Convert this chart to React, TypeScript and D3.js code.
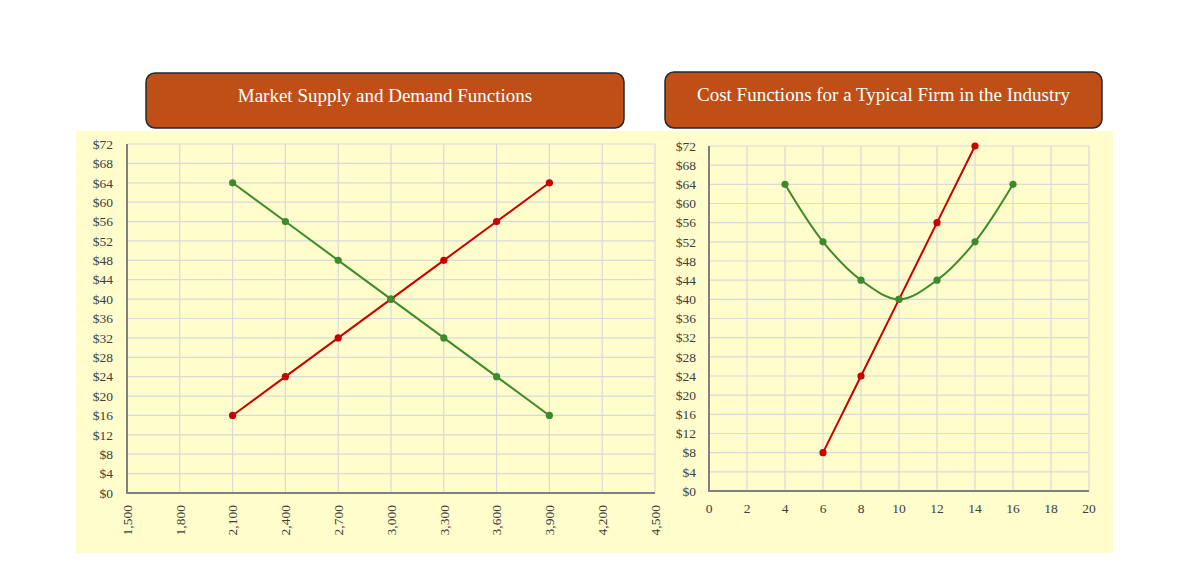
import React from "react";
import * as d3 from "d3";

const marketQty = [2100, 2400, 2700, 3000, 3300, 3600, 3900];
const demandPrice = [64, 56, 48, 40, 32, 24, 16];
const supplyPrice = [16, 24, 32, 40, 48, 56, 64];
const marketXTicks = [1500, 1800, 2100, 2400, 2700, 3000, 3300, 3600, 3900, 4200, 4500];

const atcQty = [4, 6, 8, 10, 12, 14, 16];
const atcCost = [64, 52, 44, 40, 44, 52, 64];
const mcQty = [6, 8, 10, 12, 14];
const mcCost = [8, 24, 40, 56, 72];
const firmXTicks = [0, 2, 4, 6, 8, 10, 12, 14, 16, 18, 20];

const priceTicks = d3.range(0, 73, 4);

const GREEN = "#3d8b2a";
const RED = "#c80000";
const GRID = "#d9d9d9";
const AXIS = "#808080";
const TEXT = "#404040";
const FONT = "'Liberation Serif', 'Times New Roman', serif";

type Pt = [number, number];

function Panel(props: {
  x0: number; x1: number; y0: number; y1: number;
  xDomain: [number, number]; xTicks: number[]; rotated: boolean;
  series: { pts: Pt[]; color: string; smooth: boolean }[];
  yLabelX: number;
}) {
  const { x0, x1, y0, y1, xDomain, xTicks, rotated, series, yLabelX } = props;
  const x = d3.scaleLinear().domain(xDomain).range([x0, x1]);
  const y = d3.scaleLinear().domain([0, 72]).range([y0, y1]);
  const fmt = d3.format(",");
  return (
    <g>
      {priceTicks.map((t) => (
        <line key={"h" + t} x1={x0} x2={x1} y1={y(t)} y2={y(t)} stroke={GRID} strokeWidth={1.2} />
      ))}
      {xTicks.map((t) => (
        <line key={"v" + t} x1={x(t)} x2={x(t)} y1={y(0)} y2={y(72)} stroke={GRID} strokeWidth={1.2} />
      ))}
      <line x1={x0} x2={x0} y1={y(0) + 1} y2={y(72)} stroke={AXIS} strokeWidth={2} />
      <line x1={x0 - 1} x2={x1} y1={y(0)} y2={y(0)} stroke={AXIS} strokeWidth={2} />
      {priceTicks.map((t) => (
        <text key={"yl" + t} x={yLabelX} y={y(t)} dy="0.35em" textAnchor="end"
          fontFamily={FONT} fontSize={13.5} fill={TEXT}>{"$" + t}</text>
      ))}
      {xTicks.map((t) =>
        rotated ? (
          <text key={"xl" + t} transform={`translate(${x(t)},${y(0) + 12}) rotate(-90)`}
            textAnchor="end" dy="0.35em" fontFamily={FONT} fontSize={13.5} fill={TEXT}>{fmt(t)}</text>
        ) : (
          <text key={"xl" + t} x={x(t)} y={y(0) + 22} textAnchor="middle"
            fontFamily={FONT} fontSize={13.5} fill={TEXT}>{fmt(t)}</text>
        )
      )}
      {series.map((s, i) => {
        const line = d3.line<Pt>().x((d) => x(d[0])).y((d) => y(d[1]))
          .curve(s.smooth ? d3.curveCatmullRom.alpha(0.5) : d3.curveLinear);
        return (
          <g key={"s" + i}>
            <path d={line(s.pts) || ""} fill="none" stroke={s.color} strokeWidth={2} />
            {s.pts.map((p, j) => (
              <circle key={j} cx={x(p[0])} cy={y(p[1])} r={3.6} fill={s.color} />
            ))}
          </g>
        );
      })}
    </g>
  );
}

function TitleBox(props: { x: number; y: number; w: number; h: number; text: string }) {
  const { x, y, w, h, text } = props;
  return (
    <g>
      <rect x={x} y={y} width={w} height={h} rx={9} ry={9} fill="#bf4f16" stroke="#1f2a36" strokeWidth={1.5} />
      <text x={x + w / 2} y={y + 28.5} textAnchor="middle" fontFamily={FONT} fontSize={19} fill="#ffffff">{text}</text>
    </g>
  );
}

export default function App() {
  const supplyPts: Pt[] = marketQty.map((q, i) => [q, supplyPrice[i]]);
  const demandPts: Pt[] = marketQty.map((q, i) => [q, demandPrice[i]]);
  const mcPts: Pt[] = mcQty.map((q, i) => [q, mcCost[i]]);
  const atcPts: Pt[] = atcQty.map((q, i) => [q, atcCost[i]]);
  return (
    <svg width={1200} height={583} style={{ position: "absolute", left: 0, top: 0, background: "#ffffff" }}>
      <rect x={0} y={0} width={1200} height={583} fill="#ffffff" />
      <rect x={76} y={131} width={1037} height={422} fill="#fffdcb" />
      <TitleBox x={146} y={73} w={478} h={55} text="Market Supply and Demand Functions" />
      <TitleBox x={665} y={72} w={437} h={56} text="Cost Functions for a Typical Firm in the Industry" />
      <Panel x0={127} x1={655} y0={493} y1={144} xDomain={[1500, 4500]} xTicks={marketXTicks}
        rotated={true} yLabelX={113}
        series={[
          { pts: supplyPts, color: RED, smooth: false },
          { pts: demandPts, color: GREEN, smooth: false },
        ]} />
      <Panel x0={709} x1={1089} y0={491} y1={146} xDomain={[0, 20]} xTicks={firmXTicks}
        rotated={false} yLabelX={696}
        series={[
          { pts: mcPts, color: RED, smooth: false },
          { pts: atcPts, color: GREEN, smooth: true },
        ]} />
    </svg>
  );
}
